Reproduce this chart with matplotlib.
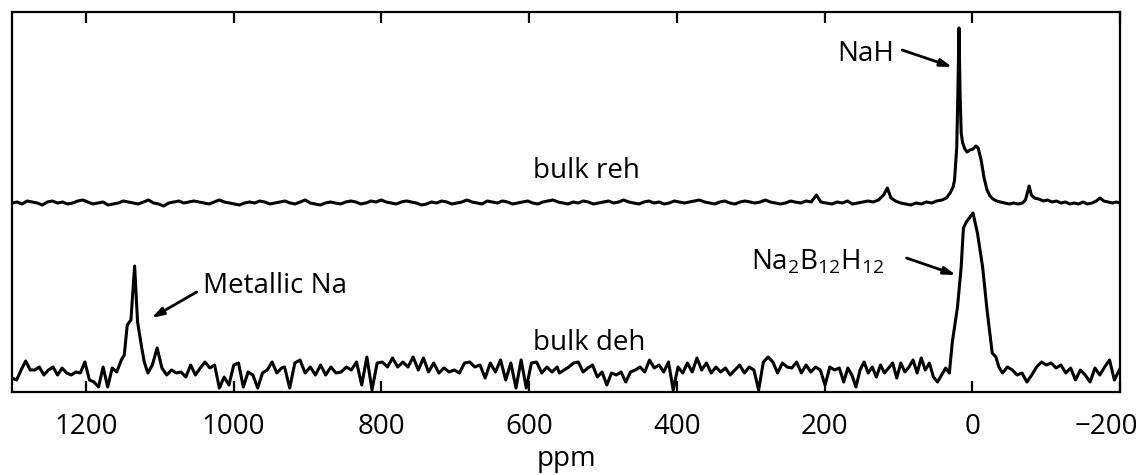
import numpy as np
import matplotlib
matplotlib.use("Agg")
import matplotlib.pyplot as plt
from matplotlib.transforms import ScaledTranslation

plt.rcParams["font.family"] = ["Open Sans", "DejaVu Sans"]
plt.rcParams["mathtext.fontset"] = "custom"
plt.rcParams["mathtext.rm"] = "Open Sans"
plt.rcParams["mathtext.it"] = "Open Sans"

# ─── bulk reh (upper trace), intensity relative to its own baseline ──────────
reh_noise_a = [
    0, 1, -1, 2, 1, 0, -2, 1, 2, 0, 1, -1, 0, 2, 3, 1, -1, 0, 1, -2,
    -1, 0, 2, 1, 0, -1, 1, 3, 0, -1, -3, 0, 1, 2, 0, 1, 2, 1, 0, -1,
    1, 3, 1, 0, -1, -2, 0, 1, 0, 2, 1, -1, 0, 1, 2, 0, -1, 1, 3, 0,
    -1, -2, 0, 1, 0, -1, 1, 2, 1, -1, 0, 2, 1, 3, 1, 0, -1, 1, 2, 1,
    0, -2, -1, 1, 0, 2, 1, -1, 0, 1, 3, 1, 0, -1, 2, 1, 0, 2, 1, -1,
    0, 1, 2, 0, -1, 1, 2, 3, 1, 0, -1, 1, 0, 2, 1, -1, 0, 1, 2, 0,
    1, 3, 1, 0, -1, 1, 2, 0, 1, -1, 0, 2, 1, 0, 1, 2, 3, 1, 0, -1,
    1, 2, 0, -1, 1, 2, 1, 0, 1, 3, 1, 0, -1, 0, 2,
]
reh_ppm_b = [240, 232, 225, 218, 211, 205, 198, 190, 183, 176, 169, 162, 155,
             148, 141, 134, 127, 120, 115, 110, 104, 97, 90, 83, 76, 69, 62,
             55, 48, 41, 35]
reh_val_b = [1, 0, 2, 1, 8, 1, 0, -1, 1, 0, 2, -1, 0,
             1, 2, 1, 3, 8, 15, 5, 2, 0, -1, -2, 0, -1, 1,
             0, 2, 3, 5]
# NaH peak with shoulder
reh_ppm_peak = [30, 26, 24, 21, 19.5, 18, 16.5, 15, 13, 10, 7, 3, -1, -5, -8,
                -12, -16, -20, -24, -28, -33]
reh_val_peak = [10, 16, 23, 56, 110, 175, 110, 70, 60, 54, 51, 53, 54, 57, 55,
                43, 25, 13, 7, 4, 2]
reh_ppm_c = [-38, -44, -50, -56, -62, -68, -72, -77, -80, -84, -90, -96, -102,
             -108, -114, -120, -126, -132, -138, -144, -150, -156, -162, -168,
             -173, -178, -184, -190, -195, -200]
reh_val_c = [1, 0, -1, 0, -1, 0, 3, 17, 8, 5, 4, 2, 3,
             1, 2, 0, 1, -1, 0, -1, 1, -1, 0, 2,
             5, 2, 1, 0, 1, 0]

# ─── bulk deh (lower trace) ─────────────────────────────────────────────────
deh_noise_1 = [14, 12, 22, 31, 22, 22, 25, 17, 22, 25, 17, 24, 19, 17, 20, 19,
               30, 12, 10, 5, 25, 5, 24, 20, 32]
deh_ppm_metal = [1148, 1144, 1139, 1134, 1130, 1125, 1121, 1116]
deh_val_metal = [37, 67, 72, 126, 70, 47, 30, 19]
deh_noise_3 = [27, 44, 24, 17, 22, 19, 20, 15, 27, 17, 24, 30, 24, 27, 4, 15,
               7, 27, 29, 5, 20, 17, 4, 19, 22, 30, 19, 24]
deh_noise_4 = [25, 4, 29, 32, 19, 25, 17, 27, 17, 25, 19, 20, 25, 22, 30, 7,
               35, 2, 29, 30, 25, 34, 25, 30, 25, 35, 22, 34, 20, 29, 19, 24,
               20, 22, 19, 29, 30, 25, 27, 14, 29, 20, 32, 12, 29, 4, 32, 4,
               29, 30, 19, 25, 20, 25]
deh_noise_5 = [19, 22, 25, 29, 30, 20, 24, 27, 15, 20, 7, 19, 17, 20, 10, 20,
               22, 25, 20, 32, 24, 27, 20, 30, 2, 25, 19, 29, 20, 34, 22, 29,
               19, 25, 20, 24, 17, 22, 27, 19, 25, 22, 2, 30, 35, 30, 19, 29,
               25, 24, 30, 19, 27, 20, 25, 22, 7, 25, 22, 24]
deh_noise_6 = [10, 24, 17, 5, 22, 30, 19, 25, 15, 27, 19, 24, 29, 14, 29, 20,
               25, 32, 19, 34, 22, 29, 15, 10, 17, 24]
deh_ppm_b12 = [31, 27, 20, 15, 12, 8, 4, -1, -7, -14, -20, -27, -32, -36]
deh_val_b12 = [19, 50, 85, 125, 164, 170, 174, 179, 159, 125, 82, 39, 35, 25]
deh_noise_8 = [19, 25, 22, 17, 19, 10, 17, 25, 30, 27, 29, 24, 27, 19, 24, 12,
               22, 17, 10, 24, 17, 25, 32, 12, 22]

REH_OFFSET = 189
tick_vals = [1200, 1000, 800, 600, 400, 200, 0, -200]


def span(p0, p1, vals):
    return np.linspace(p0, p1, len(vals))


reh_x = np.concatenate([span(1300, 246, reh_noise_a), reh_ppm_b, reh_ppm_peak, reh_ppm_c])
reh_y = np.concatenate([reh_noise_a, reh_val_b, reh_val_peak, reh_val_c]) + REH_OFFSET

deh_x = np.concatenate([span(1300, 1152, deh_noise_1), deh_ppm_metal,
                        span(1110, 935, deh_noise_3), span(931, 562, deh_noise_4),
                        span(559, 180, deh_noise_5), span(174, 36, deh_noise_6),
                        deh_ppm_b12, span(-41, -199, deh_noise_8)])
deh_y = np.concatenate([deh_noise_1, deh_val_metal, deh_noise_3, deh_noise_4,
                        deh_noise_5, deh_noise_6, deh_val_b12, deh_noise_8])

fig = plt.figure(figsize=(11.47, 4.75), dpi=100)
ax = fig.add_axes([12 / 1147, 1 - 392 / 475, 1108 / 1147, 380 / 475])

ax.plot(reh_x, reh_y, color="black", lw=2.2)
ax.plot(deh_x, deh_y, color="black", lw=2.2)

ax.set_xlim(1300, -200)
ax.set_ylim(0, 380)
ax.set_xticks(tick_vals)
ax.set_xticklabels([str(v).replace("-", "\u2212") for v in tick_vals])
ax.set_yticks([])
ax.tick_params(axis="x", direction="in", top=True, length=8, width=1.6,
               labelsize=20, pad=15)
for s in ax.spines.values():
    s.set_linewidth(1.6)
ax.set_xlabel("ppm", fontsize=20, labelpad=3)

# last label sits a bit left so it stays inside the figure
last = ax.get_xticklabels()[-1]
last.set_transform(last.get_transform() + ScaledTranslation(-14 / 100, 0, fig.dpi_scale_trans))

ax.text(522, 214, "bulk reh", fontsize=20, ha="center", va="baseline")
ax.text(518, 42, "bulk deh", fontsize=20, ha="center", va="baseline")

arrow = dict(arrowstyle="-|>,head_length=0.7,head_width=0.22", lw=2,
             color="black", shrinkA=0, shrinkB=0)
ax.annotate("", xy=(27, 325), xytext=(95, 342), arrowprops=arrow)
ax.text(183, 331, "NaH", fontsize=20, ha="left", va="baseline")

ax.annotate("", xy=(1111, 74), xytext=(1050, 100), arrowprops=arrow)
ax.text(1042, 99, "Metallic Na", fontsize=20, ha="left", va="baseline")

ax.annotate("", xy=(22, 117), xytext=(89, 134), arrowprops=arrow)
ax.text(299, 122, r"Na$_2$B$_{12}$H$_{12}$", fontsize=20, ha="left", va="baseline")

fig.savefig("out.png", dpi=100)
